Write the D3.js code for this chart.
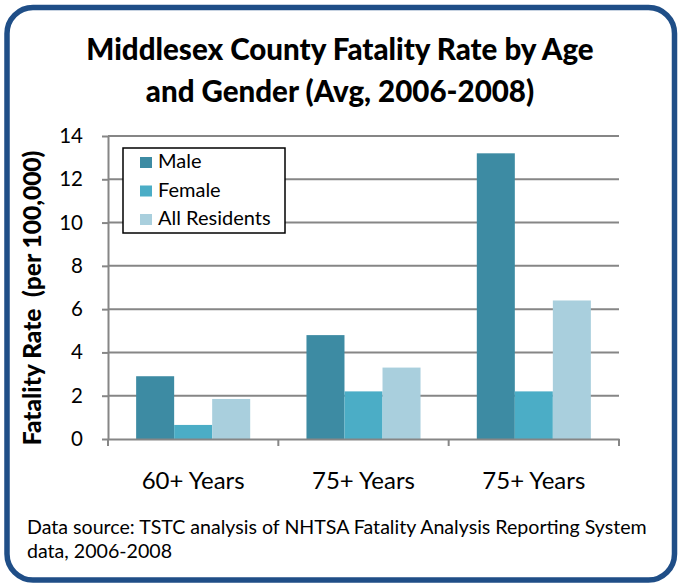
<!DOCTYPE html>
<html><head><meta charset="utf-8">
<script src="https://cdn.jsdelivr.net/npm/d3@7"></script>
<style>
html,body{margin:0;padding:0;background:#fff;}
svg{display:block;font-family:Lato, "Open Sans", sans-serif;}
</style></head>
<body>
<script>
const categories = ["60+ Years", "75+ Years", "75+ Years"];
const seriesNames = ["Male", "Female", "All Residents"];
const maleValues = [2.9, 4.8, 13.2];
const femaleValues = [0.65, 2.2, 2.2];
const allValues = [1.85, 3.3, 6.4];
const yTicks = [0, 2, 4, 6, 8, 10, 12, 14];
const colors = ["#3D8BA3", "#4BADC6", "#A9CFDD"];

const W = 679, H = 583;
const svg = d3.select("body").append("svg").attr("width", W).attr("height", H);

svg.append("rect").attr("x", 7).attr("y", 7.5).attr("width", 667.5).attr("height", 572.5)
  .attr("rx", 26).attr("ry", 26).attr("fill", "#fff").attr("stroke", "#1F4E87").attr("stroke-width", 5.5);

const title = svg.append("text").attr("text-anchor", "middle").attr("font-weight", 900)
  .attr("font-size", 29.5).attr("fill", "#000");
title.append("tspan").attr("x", 340).attr("y", 60).text("Middlesex County Fatality Rate by Age");
title.append("tspan").attr("x", 340).attr("y", 102).text("and Gender (Avg, 2006-2008)");

const pLeft = 108, pRight = 619, pTop = 136, pBottom = 439;
const y = d3.scaleLinear().domain([0, 14]).range([pBottom, pTop]);
const idx = categories.map((c, i) => i);
const x0 = d3.scaleBand().domain(idx).range([pLeft, pRight]).padding(0);
const x1 = d3.scaleBand().domain(seriesNames).range([0, x0.bandwidth()]).paddingInner(0).paddingOuter(0.74);

// gridlines
svg.append("g").selectAll("line").data(yTicks.filter(t => t > 0)).join("line")
  .attr("x1", pLeft).attr("x2", pRight).attr("y1", d => y(d)).attr("y2", d => y(d))
  .attr("stroke", "#868686").attr("stroke-width", 2);

const data = categories.map((c, i) => ({ i, vals: [maleValues[i], femaleValues[i], allValues[i]] }));
const g = svg.append("g").selectAll("g").data(data).join("g").attr("transform", d => `translate(${x0(d.i)},0)`);
g.selectAll("rect").data(d => d.vals.map((v, k) => ({ k, v }))).join("rect")
  .attr("x", d => x1(seriesNames[d.k])).attr("width", x1.bandwidth())
  .attr("y", d => y(d.v)).attr("height", d => y(0) - y(d.v))
  .attr("fill", d => colors[d.k]);

// y axis
const yAxis = svg.append("g").attr("transform", `translate(${pLeft},0)`)
  .call(d3.axisLeft(y).tickValues(yTicks).tickSize(6).tickPadding(19).tickSizeOuter(0));
yAxis.select(".domain").attr("stroke", "#868686").attr("stroke-width", 2);
yAxis.selectAll(".tick line").attr("stroke", "#868686").attr("stroke-width", 2);
yAxis.selectAll("text").attr("font-size", 20.5).attr("fill", "#000").attr("font-family", "Lato");

// x axis
const xAxis = svg.append("g").attr("transform", `translate(0,${pBottom})`)
  .call(d3.axisBottom(x0).tickFormat(i => categories[i]).tickSize(0).tickPadding(33));
xAxis.select(".domain").attr("stroke", "#868686").attr("stroke-width", 2);
xAxis.selectAll("text").attr("font-size", 24).attr("fill", "#000").attr("font-family", "Lato");
svg.append("g").selectAll("line").data([0, 1, 2, 3]).join("line")
  .attr("x1", d => pLeft + d * x0.step()).attr("x2", d => pLeft + d * x0.step())
  .attr("y1", pBottom).attr("y2", pBottom + 7).attr("stroke", "#868686").attr("stroke-width", 2);

// y title
svg.append("text").attr("transform", "translate(41,298) rotate(-90)").attr("text-anchor", "middle")
  .style("white-space", "pre")
  .attr("font-weight", 900).attr("font-size", 24.5).attr("fill", "#000").text("Fatality Rate  (per 100,000)");

// legend
const lg = svg.append("g");
lg.append("rect").attr("x", 123).attr("y", 148).attr("width", 162).attr("height", 85)
  .attr("fill", "#fff").attr("stroke", "#000").attr("stroke-width", 1.5);
seriesNames.forEach((s, k) => {
  lg.append("rect").attr("x", 140).attr("y", 157 + k * 28.5).attr("width", 12).attr("height", 11).attr("fill", colors[k]);
  lg.append("text").attr("x", 158).attr("y", 168 + k * 28.5).attr("font-size", 20).attr("fill", "#000").text(s);
});

// source
const src = svg.append("text").attr("font-size", 19.6).attr("fill", "#000");
src.append("tspan").attr("x", 27).attr("y", 534).text("Data source: TSTC analysis of NHTSA Fatality Analysis Reporting System");
src.append("tspan").attr("x", 27).attr("y", 558).text("data, 2006-2008");
</script>
</body></html>
